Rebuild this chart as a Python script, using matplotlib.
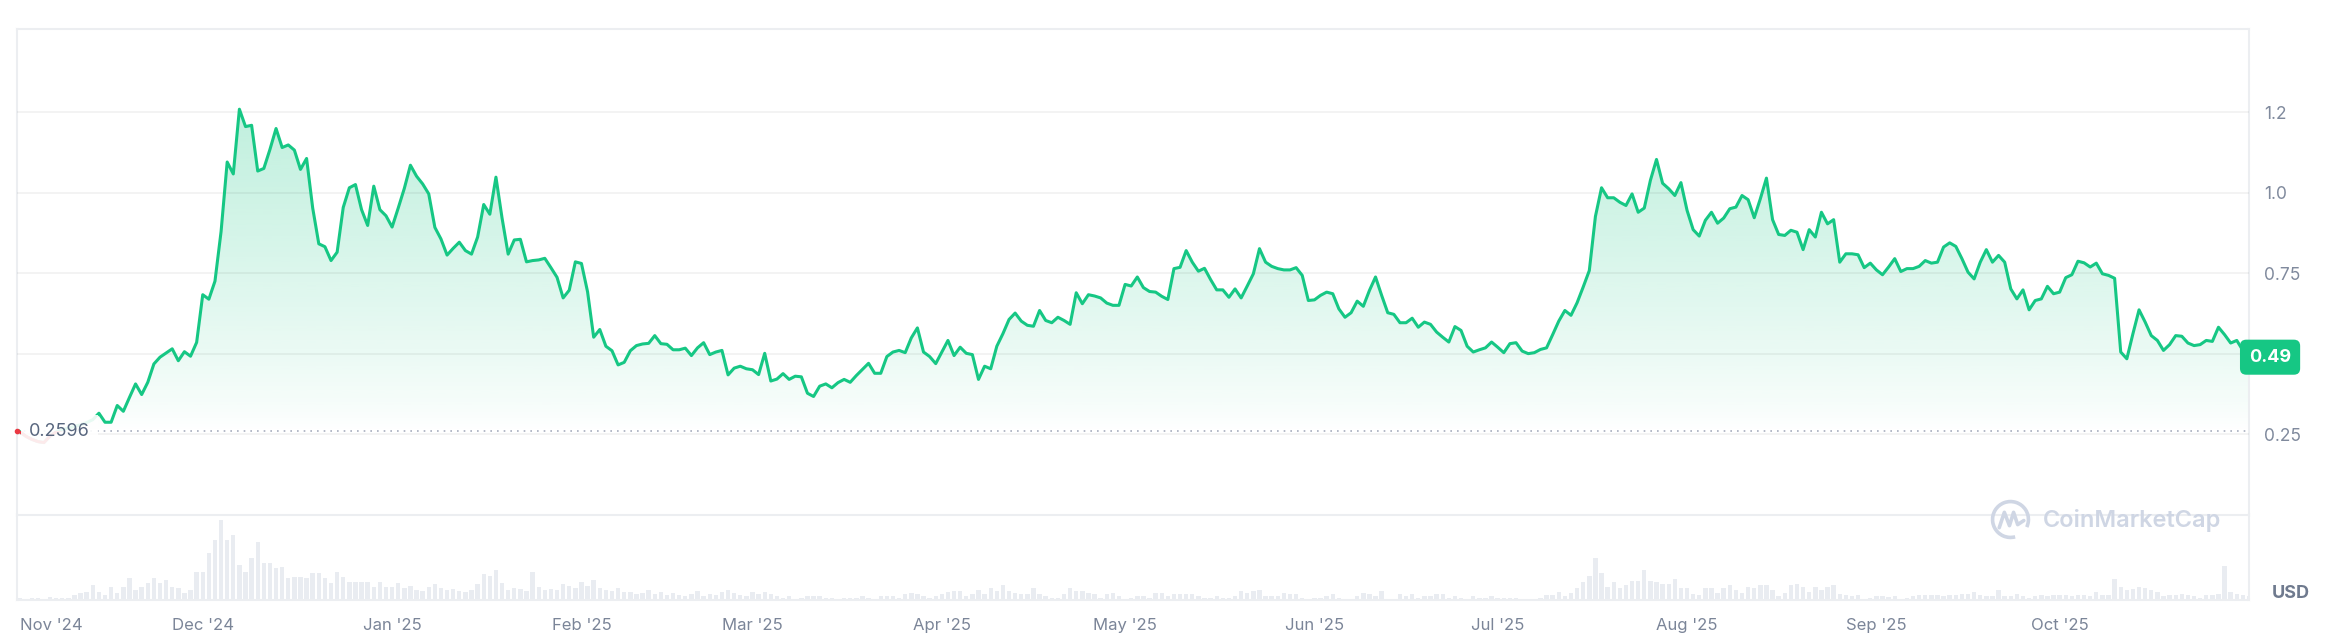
import numpy as np
import pandas as pd
import matplotlib
matplotlib.use("Agg")
import matplotlib.pyplot as plt
import matplotlib.dates as mdates
import matplotlib.colors as mcolors
from matplotlib.patches import Rectangle, Arc
from matplotlib import transforms

plt.rcParams['font.family'] = ['Inter', 'DejaVu Sans']

# daily close prices (USD), Nov 1 2024 onwards
price_nov = [0.2596, 0.245, 0.235, 0.228, 0.225, 0.245, 0.258, 0.265, 0.270, 0.275,
             0.280, 0.287, 0.296, 0.316, 0.288, 0.288, 0.340, 0.322, 0.365, 0.407,
             0.374, 0.412]
price_dec_feb = [0.469, 0.490, 0.503, 0.516, 0.479, 0.507, 0.493, 0.536, 0.684, 0.670,
                 0.726, 0.880, 1.096, 1.059, 1.260, 1.206, 1.210, 1.068, 1.076, 1.135,
                 1.200, 1.141, 1.149, 1.133, 1.073, 1.107, 0.953, 0.842, 0.833, 0.790,
                 0.816, 0.955, 1.016, 1.026, 0.948, 0.899, 1.021, 0.948, 0.929, 0.894,
                 0.953, 1.014, 1.086, 1.052, 1.028, 0.997, 0.893, 0.857, 0.807, 0.828,
                 0.847, 0.821, 0.810, 0.863, 0.964, 0.934, 1.049, 0.922, 0.810, 0.854,
                 0.856, 0.786, 0.790, 0.792, 0.797, 0.768, 0.738, 0.674, 0.698, 0.786,
                 0.781, 0.693, 0.552, 0.576, 0.524, 0.510, 0.466, 0.474, 0.510, 0.526,
                 0.531, 0.533]
price_feb_apr = [0.557, 0.532, 0.530, 0.513, 0.513, 0.518, 0.495, 0.519, 0.535, 0.498,
                 0.506, 0.511, 0.435, 0.456, 0.462, 0.454, 0.451, 0.436, 0.502, 0.416,
                 0.422, 0.439, 0.421, 0.431, 0.429, 0.378, 0.368, 0.400, 0.407, 0.395,
                 0.411, 0.421, 0.412, 0.433, 0.452, 0.471, 0.440, 0.440, 0.492, 0.506,
                 0.511, 0.504, 0.550, 0.581, 0.506, 0.492, 0.470, 0.506, 0.542, 0.495,
                 0.521, 0.502, 0.498, 0.421, 0.462, 0.454, 0.524, 0.563, 0.607, 0.627,
                 0.602, 0.589, 0.586, 0.635, 0.604]
price_apr_jun = [0.597, 0.614, 0.604, 0.592, 0.690, 0.656, 0.684, 0.680, 0.674, 0.658,
                 0.651, 0.651, 0.716, 0.711, 0.739, 0.706, 0.694, 0.692, 0.679, 0.669,
                 0.765, 0.769, 0.821, 0.785, 0.757, 0.766, 0.731, 0.699, 0.699, 0.676,
                 0.702, 0.674, 0.711, 0.749, 0.827, 0.785, 0.772, 0.765, 0.761, 0.761,
                 0.768, 0.744, 0.666, 0.668, 0.682, 0.692, 0.687, 0.640, 0.614, 0.628,
                 0.664, 0.648, 0.697, 0.739, 0.682, 0.628, 0.623, 0.597, 0.597, 0.611,
                 0.583, 0.599, 0.592, 0.568, 0.552, 0.537, 0.585, 0.573, 0.524, 0.506,
                 0.513, 0.519, 0.537, 0.521]
price_jul_sep = [0.504, 0.532, 0.535, 0.509, 0.501, 0.504, 0.514, 0.519, 0.560, 0.602,
                 0.635, 0.620, 0.659, 0.708, 0.759, 0.927, 1.016, 0.985, 0.985, 0.971,
                 0.961, 0.997, 0.940, 0.953, 1.039, 1.104, 1.030, 1.013, 0.992, 1.032,
                 0.946, 0.886, 0.866, 0.915, 0.940, 0.906, 0.922, 0.951, 0.956, 0.992,
                 0.979, 0.923, 0.982, 1.046, 0.917, 0.871, 0.868, 0.884, 0.878, 0.824,
                 0.886, 0.863, 0.940, 0.904, 0.917, 0.785, 0.811, 0.811, 0.808, 0.768,
                 0.782, 0.761, 0.746, 0.770, 0.796, 0.756, 0.765, 0.765, 0.772, 0.790,
                 0.782, 0.785, 0.832, 0.845]
price_sep_nov = [0.834, 0.796, 0.754, 0.733, 0.785, 0.824, 0.785, 0.806, 0.785, 0.702,
                 0.671, 0.699, 0.637, 0.666, 0.671, 0.710, 0.687, 0.692, 0.737, 0.746,
                 0.788, 0.783, 0.770, 0.782, 0.749, 0.744, 0.735, 0.506, 0.485, 0.563,
                 0.637, 0.599, 0.557, 0.542, 0.511, 0.529, 0.557, 0.555, 0.534, 0.526,
                 0.529, 0.542, 0.539, 0.583, 0.560, 0.534, 0.542, 0.511, 0.490]

# daily volume (relative units)
vol_nov_dec = [2, 1, 2, 2, 1, 3, 2, 2, 2, 5,
               7, 8, 15, 8, 5, 13, 7, 13, 22, 10,
               13, 17, 22, 17, 20, 13, 12, 7, 10, 28,
               28, 47, 60, 80, 60, 65, 35, 28, 42, 58,
               37, 37, 32, 33, 22, 23, 23, 22, 27, 27,
               22, 17, 28, 23, 18, 18, 18, 18, 13, 18,
               13, 13, 17]
vol_jan_feb = [12, 14, 10, 9, 13, 16, 12, 10, 11, 9,
               8, 10, 16, 26, 24, 30, 17, 10, 12, 11,
               9, 28, 13, 10, 11, 10, 16, 14, 12, 18,
               14, 20, 12, 10, 9, 12, 8, 8, 6, 7,
               10, 6, 8, 5, 7, 5, 4, 6, 9, 4,
               6, 5, 8, 10, 7, 5, 4, 8]
vol_mar_jun = [6, 8, 6, 4, 2, 4, 1, 2, 4, 4,
               4, 2, 2, 1, 2, 2, 2, 4, 2, 1,
               4, 4, 4, 2, 6, 7, 6, 4, 2, 4,
               6, 8, 9, 9, 4, 6, 10, 6, 12, 9,
               15, 9, 7, 6, 6, 12, 6, 4, 2, 2,
               6, 12, 9, 9, 7, 6, 2, 6, 7, 4,
               1, 2, 4, 4, 2, 7, 7, 4, 6, 6,
               6, 6, 4, 2, 2, 4, 2, 2, 4, 9,
               7, 9, 10, 4, 4, 4, 7, 6, 6, 2,
               1, 2, 2, 4, 6, 2, 1, 1, 4, 7,
               6, 4, 9, 1, 1, 6, 4, 6, 2, 4,
               4, 6, 6, 2, 4, 2, 1, 4, 2, 2,
               4, 2]
vol_jul_oct = [2, 2, 2, 1, 1, 1, 2, 5, 5, 8,
               4, 7, 12, 18, 24, 42, 27, 13, 18, 12,
               15, 19, 19, 30, 19, 18, 16, 16, 21, 12,
               12, 6, 5, 12, 12, 7, 12, 15, 10, 7,
               13, 12, 15, 15, 10, 4, 7, 15, 16, 13,
               8, 13, 10, 13, 15, 6, 5, 4, 5, 1,
               2, 4, 4, 3, 4, 1, 2, 4, 5, 5,
               5, 5, 4, 5, 5, 6, 6, 8, 5, 4,
               4, 10, 4, 4, 6, 4, 2, 4, 5, 4,
               5, 5, 5, 4, 5, 5, 4, 8, 5, 5,
               21, 13, 10, 11, 13, 12, 10, 8, 4, 5,
               5, 6, 5, 4, 2, 5, 5, 6,
               34, 8, 6, 5, 4]

price = np.array(price_nov + price_dec_feb + price_feb_apr + price_apr_jun
                 + price_jul_sep + price_sep_nov)
volume = np.array(vol_nov_dec + vol_jan_feb + vol_mar_jun + vol_jul_oct)
dates = pd.date_range("2024-11-01", periods=len(price), freq="D")
month_ticks = pd.date_range("2024-11-01", "2025-10-01", freq="MS")
base = price[0]

GREEN = '#16c784'
RED = '#ea3943'
FRAME = '#eceef1'
W, H = 2335, 639

fig = plt.figure(figsize=(W / 100, H / 100), dpi=100)
fig.patch.set_facecolor('white')


def fx(px):
    return px / W


def fy(py):
    return 1 - py / H


ax = fig.add_axes([fx(17), fy(515), fx(2249) - fx(17), fy(29) - fy(515)])
axv = fig.add_axes([fx(17), fy(600), fx(2249) - fx(17), fy(515) - fy(600)], sharex=ax)

x = mdates.date2num(dates)

# gradient fill between the line and the opening price
top = price.max()
ramp = np.linspace(0, 1, 256).reshape(-1, 1) ** 0.8 * 0.27
rgba = np.zeros((256, 1, 4))
rgba[..., :3] = mcolors.to_rgb(GREEN)
rgba[..., 3] = ramp
im = ax.imshow(rgba, extent=[x[0], x[-1], base, top], origin='lower',
               aspect='auto', zorder=2, interpolation='bilinear')
poly = ax.fill_between(x, price, base, color='none', lw=0)
im.set_clip_path(poly.get_paths()[0], transform=ax.transData)

ax.plot(x, price, color=GREEN, lw=2.2, zorder=4, solid_joinstyle='round')
red_line, = ax.plot(x, price, color=RED, lw=2.2, zorder=5, solid_joinstyle='round')
red_line.set_clip_path(Rectangle((x[0] - 5, 0), 400, base, transform=ax.transData))

ax.axhline(base, color='#a7adbd', lw=1.2, linestyle=(0, (1, 3)), zorder=3)

ax.set_xlim(x[0] - 0.41, x[0] + 365)
ax.set_ylim(0, 1.509)
ax.set_yticks([0.25, 0.5, 0.75, 1.0, 1.25])
ax.set_yticklabels(['0.25', '', '0.75', '1.0', '1.2'])
ax.yaxis.tick_right()
ax.tick_params(axis='y', length=0, pad=11, labelsize=12.5, labelcolor='#808a9d')
ax.tick_params(axis='x', length=0, labelbottom=False)
ax.grid(axis='y', color='black', alpha=0.06, lw=1.1)
ax.set_axisbelow(False)
for side in ['top', 'left', 'right']:
    ax.spines[side].set_color(FRAME)
    ax.spines[side].set_linewidth(1.5)
ax.spines['bottom'].set_visible(False)

# opening price label and marker
btr = transforms.blended_transform_factory(ax.transAxes, ax.transData)
ax.text(0.0055, base, f'{base:.4f}', transform=btr, ha='left', va='center',
        fontsize=13, color='#58667e', zorder=6,
        bbox=dict(boxstyle='square,pad=0.45', fc='white', ec='none', alpha=0.9))
ax.plot([0], [base], 'o', transform=btr, color=RED, ms=3, clip_on=False, zorder=7)

# last price badge
ax.text(1.0, price[-1], f'{price[-1]:.2f}', transform=btr, ha='left', va='center',
        fontsize=13, fontweight='bold', color='white', zorder=8, clip_on=False,
        bbox=dict(boxstyle='round,pad=0.5,rounding_size=0.35', fc=GREEN, ec='none'))

# volume bars
axv.bar(x, volume, width=0.72, color='#e9ecf1', zorder=2)
axv.set_ylim(0, 85)
axv.set_yticks([])
axv.set_xticks(mdates.date2num(month_ticks))
labels = axv.set_xticklabels([d.strftime("%b '%y") for d in month_ticks])
labels[0].set_ha('left')
axv.tick_params(axis='x', length=0, pad=13, labelsize=12, labelcolor='#7b8598')
for side in axv.spines:
    axv.spines[side].set_color(FRAME)
    axv.spines[side].set_linewidth(1.5)

fig.text(fx(2291), fy(593), 'USD', ha='center', va='center', fontsize=13,
         fontweight='bold', color='#6f7a8e')

# watermark
fig.text(fx(2043), fy(521), 'CoinMarketCap', ha='left', va='center', fontsize=17,
         fontweight='semibold', color='#cfd6e4', zorder=1)
lax = fig.add_axes([fx(1990), fy(540), fx(41), 41 / H])
lax.set_xlim(0, 40)
lax.set_ylim(0, 40)
lax.axis('off')
lax.add_patch(Arc((20, 20), 35, 35, theta1=-25, theta2=285, color='#cfd6e4', lw=2.6))
lax.plot([9, 14, 19, 23, 27, 33], [12, 27, 14, 27, 15, 19], color='#cfd6e4', lw=2.6,
         solid_joinstyle='round', solid_capstyle='round')

fig.savefig('out.png', dpi=100, facecolor='white')
